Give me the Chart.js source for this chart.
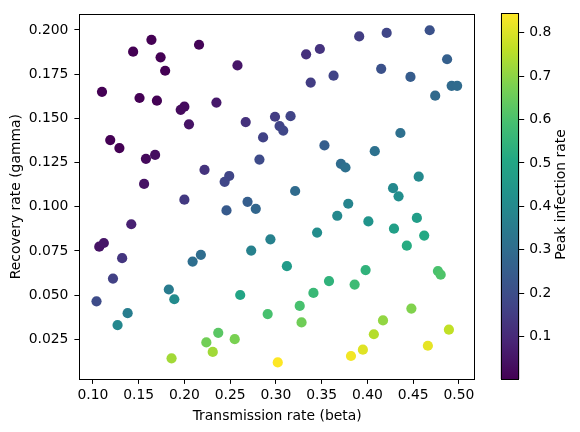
<!DOCTYPE html>
<html lang="en">
<head>
<meta charset="UTF-8">
<title>Peak infection rate</title>
<script src="https://cdn.jsdelivr.net/npm/chart.js"></script>
<style>
  html, body { margin: 0; padding: 0; background: #fff; }
  #wrap { position: relative; width: 580px; height: 432px; }
  #wrap canvas { position: absolute; top: 0; }
</style>
</head>
<body>
<div id="wrap">
  <canvas id="chart" width="580" height="432" style="left:0"></canvas>
  <canvas id="cbar" width="100" height="432" style="left:480px"></canvas>
</div>
<script>
// transmission rate (x)
const beta = [
  0.164, 0.144, 0.174, 0.179, 0.216, 0.258, 0.110, 0.151, 0.170, 0.200,
  0.196, 0.235, 0.205, 0.267, 0.119, 0.129, 0.168, 0.158, 0.286, 0.282,
  0.222, 0.249, 0.244, 0.156, 0.200, 0.269,
  0.391, 0.421, 0.468, 0.333, 0.348, 0.487, 0.415, 0.447, 0.338, 0.363,
  0.492, 0.498, 0.474, 0.299, 0.316, 0.304, 0.308, 0.436, 0.353, 0.408,
  0.371, 0.376, 0.456, 0.428, 0.434, 0.321, 0.379,
  0.246, 0.278, 0.142, 0.107, 0.112, 0.132, 0.218, 0.209, 0.294, 0.273,
  0.122, 0.104, 0.183, 0.189, 0.261, 0.138, 0.127, 0.291, 0.237, 0.224,
  0.255, 0.231, 0.186, 0.302,
  0.367, 0.401, 0.454, 0.429, 0.462, 0.443, 0.345, 0.312, 0.398, 0.358,
  0.386, 0.477, 0.480, 0.341, 0.326, 0.448, 0.328, 0.417, 0.407, 0.489,
  0.395, 0.382, 0.466
];
// recovery rate (y)
const gamma = [
  0.1944, 0.1877, 0.1845, 0.1769, 0.1916, 0.1799, 0.1650, 0.1615, 0.1600, 0.1566,
  0.1548, 0.1589, 0.1466, 0.1479, 0.1377, 0.1332, 0.1293, 0.1271, 0.1392, 0.1267,
  0.1209, 0.1174, 0.1141, 0.1129, 0.1040, 0.1028,
  0.1963, 0.1983, 0.1998, 0.1862, 0.1892, 0.1834, 0.1780, 0.1734, 0.1702, 0.1741,
  0.1684, 0.1684, 0.1628, 0.1509, 0.1512, 0.1456, 0.1431, 0.1417, 0.1347, 0.1314,
  0.1243, 0.1222, 0.1170, 0.1105, 0.1059, 0.1089, 0.1017,
  0.0979, 0.0988, 0.0901, 0.0774, 0.0795, 0.0709, 0.0728, 0.0690, 0.0816, 0.0752,
  0.0594, 0.0465, 0.0532, 0.0477, 0.0501, 0.0398, 0.0331, 0.0393, 0.0287, 0.0233,
  0.0251, 0.0179, 0.0143, 0.0120,
  0.0949, 0.0917, 0.0937, 0.0876, 0.0837, 0.0780, 0.0854, 0.0664, 0.0642, 0.0580,
  0.0560, 0.0636, 0.0616, 0.0513, 0.0439, 0.0424, 0.0346, 0.0357, 0.0279, 0.0305,
  0.0192, 0.0156, 0.0214
];
// peak infection rate (colour)
const peak = [
  0.002, 0.002, 0.002, 0.003, 0.009, 0.053, 0.002, 0.002, 0.004, 0.027,
  0.026, 0.061, 0.046, 0.120, 0.002, 0.002, 0.031, 0.023, 0.165, 0.193,
  0.126, 0.176, 0.179, 0.044, 0.142, 0.252,
  0.154, 0.176, 0.212, 0.118, 0.127, 0.258, 0.210, 0.246, 0.153, 0.170,
  0.293, 0.297, 0.292, 0.152, 0.171, 0.171, 0.181, 0.312, 0.253, 0.315,
  0.300, 0.311, 0.397, 0.394, 0.414, 0.296, 0.380,
  0.238, 0.279, 0.078, 0.045, 0.050, 0.131, 0.301, 0.306, 0.368, 0.371,
  0.163, 0.195, 0.351, 0.402, 0.494, 0.355, 0.391, 0.597, 0.626, 0.662,
  0.675, 0.726, 0.727, 0.845,
  0.394, 0.436, 0.470, 0.473, 0.511, 0.520, 0.409, 0.460, 0.546, 0.545,
  0.577, 0.600, 0.610, 0.567, 0.597, 0.684, 0.659, 0.706, 0.750, 0.766,
  0.806, 0.830, 0.815
];

const xTicks = [0.10, 0.15, 0.20, 0.25, 0.30, 0.35, 0.40, 0.45, 0.50];
const yTicks = [0.025, 0.050, 0.075, 0.100, 0.125, 0.150, 0.175, 0.200];
const cbTicks = [0.1, 0.2, 0.3, 0.4, 0.5, 0.6, 0.7, 0.8];

const viridisStops = ['#440154', '#482475', '#414487', '#355f8d', '#2a788e', '#21918c',
                      '#22a884', '#44bf70', '#7ad151', '#bddf26', '#fde725'];

function hexRgb(h) {
  return [parseInt(h.slice(1, 3), 16), parseInt(h.slice(3, 5), 16), parseInt(h.slice(5, 7), 16)];
}

function viridis(t) {
  t = Math.max(0, Math.min(1, t));
  const p = t * (viridisStops.length - 1);
  const i = Math.min(Math.floor(p), viridisStops.length - 2);
  const f = p - i;
  const a = hexRgb(viridisStops[i]), b = hexRgb(viridisStops[i + 1]);
  const c = a.map((v, k) => Math.round(v + (b[k] - v) * f));
  return `rgb(${c[0]}, ${c[1]}, ${c[2]})`;
}

const cMin = Math.min(...peak);
const cMax = Math.max(...peak);

Chart.defaults.font.family = 'DejaVu Sans';
Chart.defaults.font.size = 13.9;
Chart.defaults.color = '#000';

const font = { family: 'DejaVu Sans', size: 13.9 };

// full black box round the plot area, like matplotlib spines
const frame = {
  id: 'frame',
  afterDatasetsDraw(chart) {
    const a = chart.chartArea, c = chart.ctx;
    c.save();
    c.strokeStyle = '#000';
    c.lineWidth = 1;
    c.strokeRect(Math.round(a.left) + 0.5, Math.round(a.top) + 0.5,
                 Math.round(a.right) - Math.round(a.left) - 1, Math.round(a.bottom) - Math.round(a.top));
    c.restore();
  }
};

new Chart(document.getElementById('chart'), {
  type: 'scatter',
  data: {datasets: [{data             : beta.map((b, i) => ({x: b, y: gamma[i]})),
                     backgroundColor  : peak.map(p => viridis((p - cMin) / (cMax - cMin))),
                     borderWidth      : 0,
                     pointRadius      : 5.1,
                     pointHoverRadius : 5.1}]},
  options: {
    responsive: false,
    animation: false,
    events: [],
    layout: {padding: {left: 0, right: 105, top: 9.3, bottom: 0}},
    plugins: {legend: {display: false}, tooltip: {enabled: false}},
    scales: {
      x: {type: 'linear', min: 0.0852, max: 0.5175,
          afterBuildTicks: s => { s.ticks = xTicks.map(v => ({value: v})); },
          afterFit: s => { s.height = 53; },
          border: {display: false},
          grid: {drawOnChartArea: false, drawTicks: true, tickLength: 4.9, color: '#000'},
          ticks: {font: font, color: '#000', padding: 3, maxRotation: 0, autoSkip: false,
                  callback: v => v.toFixed(2)},
          title: {display: true, text: 'Transmission rate (beta)', color: '#000', font: font,
                  padding: {top: 0, bottom: 7.7}}},
      y: {type: 'linear', min: 0.0026, max: 0.2088,
          afterBuildTicks: s => { s.ticks = yTicks.map(v => ({value: v})); },
          afterFit: s => { s.width = 79.3; },
          border: {display: false},
          grid: {drawOnChartArea: false, drawTicks: true, tickLength: 4.9, color: '#000'},
          ticks: {font: font, color: '#000', padding: 6, autoSkip: false,
                  callback: v => v.toFixed(3)},
          title: {display: true, text: 'Recovery rate (gamma)', color: '#000', font: font,
                  padding: {top: 7.7, bottom: 0}}}
    }
  },
  plugins: [frame]
});

// colour bar: one floating bar from min to max, filled with the colormap
const cbLabel = {
  id: 'cbLabel',
  afterDraw(chart) {
    const c = chart.ctx;
    c.save();
    c.translate(81.7, 194.5);
    c.rotate(-Math.PI / 2);
    c.font = '13.9px "DejaVu Sans"';
    c.fillStyle = '#000';
    c.textAlign = 'center';
    c.textBaseline = 'middle';
    c.fillText('Peak infection rate', 0, 0);
    c.restore();
  }
};

new Chart(document.getElementById('cbar'), {
  type: 'bar',
  data: {labels: [''],
         datasets: [{data: [[cMin, cMax]],
                     borderWidth: 0,
                     barPercentage: 1,
                     categoryPercentage: 1,
                     backgroundColor: ctx => {
                       const ch = ctx.chart;
                       if (!ch.chartArea) return '#440154';
                       const ys = ch.scales.y;
                       const g = ch.ctx.createLinearGradient(0, ys.getPixelForValue(cMin), 0, ys.getPixelForValue(cMax));
                       for (let i = 0; i <= 40; i++) g.addColorStop(i / 40, viridis(i / 40));
                       return g;
                     }}]},
  options: {
    responsive: false,
    animation: false,
    events: [],
    layout: {padding: {left: 20.7, right: 0, top: 9.3, bottom: 53}},
    plugins: {legend: {display: false}, tooltip: {enabled: false}},
    scales: {
      x: {display: false},
      y: {position: 'right', min: cMin, max: cMax,
          afterBuildTicks: s => { s.ticks = cbTicks.map(v => ({value: v})); },
          afterFit: s => { s.width = 60.7; },
          border: {display: false},
          grid: {drawOnChartArea: false, drawTicks: true, tickLength: 4.9, color: '#000'},
          ticks: {font: font, color: '#000', padding: 5, autoSkip: false,
                  callback: v => v.toFixed(1)}}
    }
  },
  plugins: [frame, cbLabel]
});
</script>
</body>
</html>
